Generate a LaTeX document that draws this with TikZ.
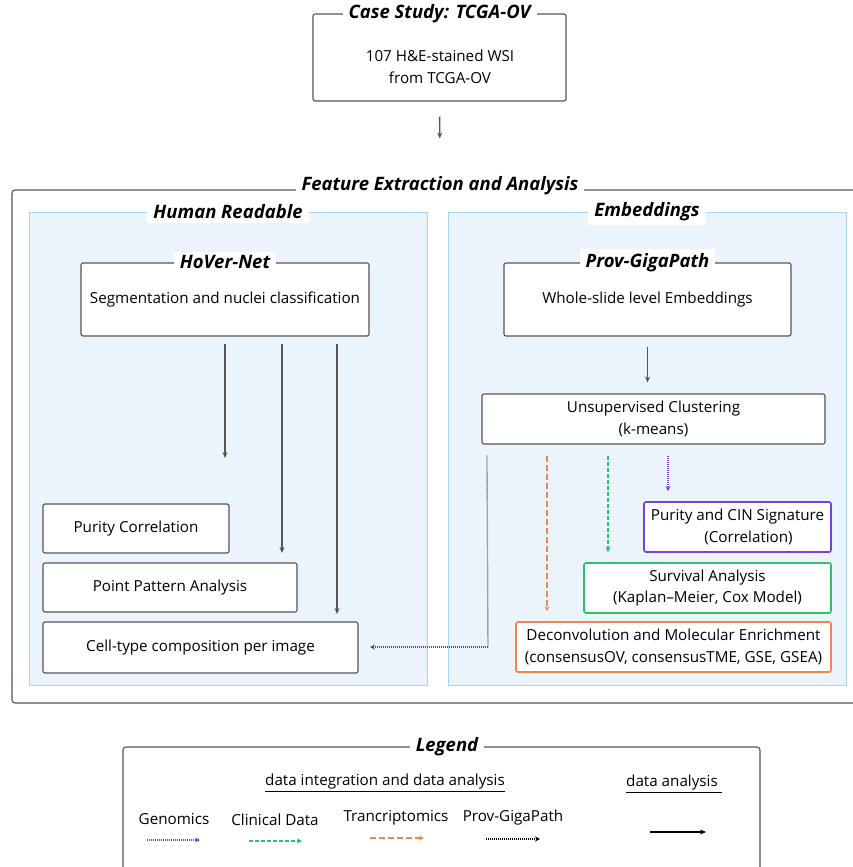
\documentclass[tikz,border=0pt]{standalone}
\usepackage{fontspec}
\setmainfont{Open Sans}
\usetikzlibrary{positioning}
\usetikzlibrary{arrows.meta,calc}
\definecolor{panelblue}{HTML}{EBF4FD}
\definecolor{panelline}{HTML}{A8D5F2}
\definecolor{genpurple}{HTML}{7440E0}
\definecolor{clingreen}{HTML}{2FBF6A}
\definecolor{transorange}{HTML}{F0874A}
\definecolor{boxline}{HTML}{555555}
\tikzstyle{block} = [rectangle, draw=boxline, fill=white, rounded corners=2pt,
  line width=1.1pt, align=center, inner sep=0pt, font=\fontsize{15.2}{21.5}\selectfont]
\tikzstyle{panel} = [rectangle, draw=panelline, fill=panelblue, line width=0.9pt, inner sep=0pt]
\tikzstyle{frame} = [rectangle, draw=boxline, rounded corners=3pt, line width=1.1pt, inner sep=0pt]
\tikzstyle{title} = [fill=white, inner xsep=6pt, inner ysep=4pt,
  font=\fontsize{18.5}{20}\selectfont\bfseries\itshape]
\tikzstyle{plain} = [inner sep=1pt, font=\fontsize{15.2}{21.5}\selectfont]
\tikzstyle{line} = [draw=boxline, line width=1.3pt, -{Stealth[length=6pt,width=5pt]}]
\tikzstyle{gen} = [draw=genpurple, line width=1.5pt, dash pattern=on 1pt off 1pt, -{Stealth[length=5pt,width=5pt]}]
\tikzstyle{clin} = [draw=clingreen, line width=1.4pt, dash pattern=on 4pt off 2pt, -{Stealth[length=5pt,width=5pt]}]
\tikzstyle{trans} = [draw=transorange, line width=1.4pt, dash pattern=on 6pt off 3pt, -{Stealth[length=5pt,width=5pt]}]
\tikzstyle{prov} = [draw=boxline, line width=1.4pt, dash pattern=on 1pt off 1pt, -{Stealth[length=5pt,width=5pt]}]
\begin{document}
\begin{tikzpicture}[x=1pt, y=-1pt]
  \useasboundingbox (0,0) rectangle (853,867);

    % Case study
    \node [block, minimum width=253pt, minimum height=87pt] (case) at (439.5,57.5) {};
    \node [title] (casettl) at (case.north) {Case Study: TCGA-OV};
    \node [plain, align=center] (casetxt) at (440,67) {107 H\&E-stained WSI\\from TCGA-OV};

    % Frames
    \node [frame, minimum width=850pt, minimum height=513pt] (feat) at (437,446.5) {};
    \node [title] (featttl) at (440,186) {Feature Extraction and Analysis};
    \node [panel, minimum width=398pt, minimum height=473pt] (hr) at (228,448.5) {};
    \node [title] (hrttl) at (hr.north) {Human Readable};
    \node [panel, minimum width=398pt, minimum height=473pt] (emb) at (647,448.5) {};
    \node [title] (embttl) at (emb.north) {Embeddings};

    % Human readable side
    \node [block, minimum width=288pt, minimum height=73pt] (hover) at (225,299.5) {Segmentation and nuclei classification};
    \node [title] (hoverttl) at (hover.north) {HoVer-Net};
    \node [block, minimum width=186pt, minimum height=49pt] (pur) at (136,528.5) {Purity Correlation};
    \node [block, minimum width=254pt, minimum height=49pt] (ppa) at (170,587.5) {Point Pattern Analysis};
    \node [block, minimum width=315pt, minimum height=51pt] (cell) at (200.5,647.5) {Cell-type composition per image};

    % Embeddings side
    \node [block, minimum width=287pt, minimum height=73pt] (giga) at (647.5,299.5) {Whole-slide level Embeddings};
    \node [title] (gigattl) at (giga.north) {Prov-GigaPath};
    \node [block, minimum width=343pt, minimum height=50pt] (clus) at (653.5,419) {Unsupervised Clustering\\(k-means)};
    \node [block, draw=genpurple, line width=1.6pt, minimum width=187pt, minimum height=50pt] (cin) at (737.5,527) {Purity and CIN Signature\\\hspace*{22pt}(Correlation)};
    \node [block, draw=clingreen, line width=1.6pt, minimum width=247pt, minimum height=50pt] (surv) at (707.5,588) {Survival Analysis\\(Kaplan–Meier, Cox Model)};
    \node [block, draw=transorange, line width=1.6pt, minimum width=315pt, minimum height=50pt] (deconv) at (673.5,647) {Deconvolution and Molecular Enrichment\\(consensusOV, consensusTME, GSE, GSEA)};

    % arrow ends
    \coordinate (a1) at (225,458);
    \coordinate (a2) at (282,553);
    \coordinate (a3) at (337,614);
    \coordinate (gk) at (488,647);
    \coordinate (pend) at (370,647);

    % edges
    \path [line, shorten <=15pt, shorten >=34pt] (case.south) -- (featttl.north);
    \path [line, shorten <=7pt] (hover.south) -- (a1);
    \path [line, shorten <=7pt] (hover.south -| a2) -- (a2);
    \path [line, shorten <=7pt] (hover.south -| a3) -- (a3);
    \path [line, shorten <=10pt, shorten >=11pt] (giga.south) -- (clus.north -| giga.south);
    \path [gen, shorten <=11pt, shorten >=10pt] (clus.south -| 668,0) -- (cin.north -| 668,0);
    \path [clin, shorten <=11pt, shorten >=10pt] (clus.south -| 608,0) -- (surv.north -| 608,0);
    \path [trans, shorten <=11pt, shorten >=10pt] (clus.south -| 547,0) -- (deconv.north -| 547,0);
    \draw [prov, -] ([shift={(5.5pt,-11pt)}]clus.south west) -- (gk);
    \path [prov] (gk) -- (pend);

    % Legend
    \node [frame, minimum width=637pt, minimum height=160pt] (legend) at (441.5,827) {};
    \node [title] (legttl) at (447,747) {Legend};
    \node [plain] (integ) at (385,783) {\underline{data integration and data analysis}};
    \node [plain] (anal) at (674,784) {\underline{data analysis\ }};
    \node [plain] (genl) at (174,819) {Genomics};
    \node [plain] (clinl) at (275,820) {Clinical Data};
    \node [plain] (transl) at (396,818) {Trancriptomics};
    \node [plain] (provl) at (513,818) {Prov-GigaPath};
    \coordinate (g1) at (147,840); \coordinate (g2) at (200,840);
    \coordinate (c1) at (249,841); \coordinate (c2) at (302,841);
    \coordinate (t1) at (370,838); \coordinate (t2) at (424,838);
    \coordinate (p1) at (486,839); \coordinate (p2) at (540,839);
    \coordinate (d1) at (650,832); \coordinate (d2) at (706,832);
    \path [gen] (g1) -- (g2);
    \path [clin] (c1) -- (c2);
    \path [trans] (t1) -- (t2);
    \path [prov, draw=black] (p1) -- (p2);
    \path [line, draw=black, line width=1.6pt] (d1) -- (d2);
  \end{tikzpicture}
\end{document}
